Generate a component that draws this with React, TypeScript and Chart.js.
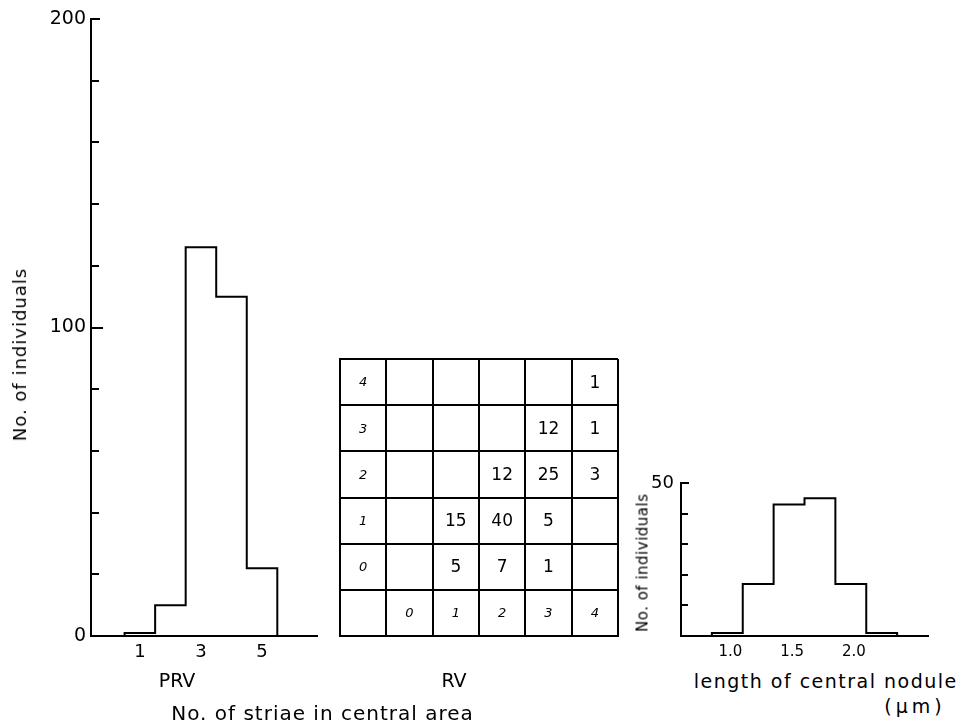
import React, { useEffect, useRef } from "react";
import { Chart, registerables } from "chart.js";

Chart.register(...registerables);

const FONT = "'DejaVu Sans', sans-serif";

// ---- PRV histogram (No. of striae in central area, PRV) ----
const prvStriae = [1, 2, 3, 4, 5];
const prvCounts = [1, 10, 126, 110, 22];
const prvXTickValues = [1, 3, 5];
const prvYTickValues = [0, 20, 40, 60, 80, 100, 120, 140, 160, 180, 200];
const prvYLabelled = [0, 100, 200];

// ---- RV table (rows: striae on one side, columns: striae on the other) ----
const rvHeaders = [0, 1, 2, 3, 4];
const rvCellCol = [4, 3, 4, 2, 3, 4, 1, 2, 3, 1, 2, 3];
const rvCellRow = [4, 3, 3, 2, 2, 2, 1, 1, 1, 0, 0, 0];
const rvCellCount = [1, 12, 1, 12, 25, 3, 15, 40, 5, 5, 7, 1];

// ---- Central nodule length histogram ----
const noduleBinEdges = [0.85, 1.1, 1.35, 1.6, 1.85, 2.1, 2.35];
const noduleCounts = [1, 17, 43, 45, 17, 1];
const noduleXTickValues = [1.0, 1.5, 2.0];
const noduleYTickValues = [0, 10, 20, 30, 40, 50];
const noduleYLabelled = [50];

function stepOutline(edges: number[], counts: number[]) {
  const pts = [{ x: edges[0], y: 0 }];
  counts.forEach((c, i) => pts.push({ x: edges[i + 1], y: c }));
  pts.push({ x: edges[edges.length - 1], y: 0 });
  return pts;
}

function makeInwardTicks(values: number[], lengths: number[]) {
  return {
    id: "inwardTicks",
    afterDraw(chart: any) {
      const { ctx, chartArea, scales } = chart;
      const y = scales.y;
      ctx.save();
      ctx.strokeStyle = "#000";
      ctx.lineWidth = 2;
      values.forEach((v, i) => {
        if (!lengths[i]) return;
        const py = Math.round(y.getPixelForValue(v));
        ctx.beginPath();
        ctx.moveTo(chartArea.left, py);
        ctx.lineTo(chartArea.left + lengths[i], py);
        ctx.stroke();
      });
      ctx.restore();
    },
  };
}

const cellText = {
  id: "cellText",
  afterDatasetsDraw(chart: any) {
    const ctx = chart.ctx;
    chart.data.datasets.forEach((ds: any, di: number) => {
      const meta = chart.getDatasetMeta(di);
      ctx.save();
      ctx.font = ds.textFont;
      ctx.fillStyle = "#000";
      ctx.textAlign = "center";
      ctx.textBaseline = "middle";
      meta.data.forEach((el: any, i: number) => {
        ctx.fillText(ds.texts[i], el.x, el.y + 1);
      });
      ctx.restore();
    });
  },
};

function histConfig(o: any) {
  return {
    type: "line",
    data: {
      datasets: [
        {
          data: o.points,
          stepped: "after",
          borderColor: "#000",
          borderWidth: 2,
          pointRadius: 0,
          fill: false,
        },
      ],
    },
    options: {
      responsive: false,
      animation: false,
      events: [],
      layout: { padding: o.padding },
      plugins: { legend: { display: false }, tooltip: { enabled: false } },
      scales: {
        x: {
          type: "linear",
          min: o.xMin,
          max: o.xMax,
          afterBuildTicks: (s: any) => {
            s.ticks = o.xTicks.map((v: number) => ({ value: v }));
          },
          afterFit: (s: any) => {
            s.height = o.xHeight;
          },
          ticks: {
            color: "#000",
            font: o.xTickFont,
            padding: o.xTickPad,
            maxRotation: 0,
            autoSkip: false,
            callback: (v: number) => o.xFmt(v),
          },
          grid: { display: false, drawTicks: false },
          border: { display: true, color: "#000", width: 2 },
        },
        y: {
          type: "linear",
          min: 0,
          max: o.yMax,
          afterBuildTicks: (s: any) => {
            s.ticks = o.yTicks.map((v: number) => ({ value: v }));
          },
          afterFit: (s: any) => {
            s.width = o.yWidth;
          },
          ticks: {
            color: "#000",
            font: o.yTickFont,
            padding: o.yTickPad,
            autoSkip: false,
            callback: (v: number) => (o.yLabelled.includes(v) ? String(v) : ""),
          },
          grid: { display: false, drawTicks: false },
          border: { display: true, color: "#000", width: 2 },
        },
      },
    },
    plugins: [makeInwardTicks(o.yTicks, o.tickLens)],
  };
}

function gridConfig() {
  const lines = [-1, ...rvHeaders].map((h) => h - 0.5);
  lines.push(rvHeaders[rvHeaders.length - 1] + 0.5);
  const axis = (isX: boolean) => ({
    type: "linear",
    min: lines[0],
    max: lines[lines.length - 1],
    afterBuildTicks: (s: any) => {
      s.ticks = lines.map((v) => ({ value: v }));
    },
    afterFit: (s: any) => {
      if (isX) s.height = 0;
      else s.width = 0;
    },
    ticks: { display: false },
    grid: { display: true, color: "#000", lineWidth: 2, drawTicks: false },
    border: { display: true, color: "#000", width: 2 },
  });
  return {
    type: "scatter",
    data: {
      datasets: [
        {
          data: rvCellCol.map((c, i) => ({ x: c, y: rvCellRow[i] })),
          pointRadius: 0,
          texts: rvCellCount.map(String),
          textFont: `17px ${FONT}`,
        },
        {
          data: rvHeaders.map((h) => ({ x: -1, y: h })),
          pointRadius: 0,
          texts: rvHeaders.map(String),
          textFont: `italic 13px ${FONT}`,
        },
        {
          data: rvHeaders.map((h) => ({ x: h, y: -1 })),
          pointRadius: 0,
          texts: rvHeaders.map(String),
          textFont: `italic 13px ${FONT}`,
        },
      ],
    },
    options: {
      responsive: false,
      animation: false,
      events: [],
      layout: { padding: { left: 10, top: 19, right: 12, bottom: 4 } },
      plugins: { legend: { display: false }, tooltip: { enabled: false } },
      scales: { x: axis(true), y: axis(false) },
    },
    plugins: [cellText],
  };
}

function ChartBox({ config, left, top, width, height }: any) {
  const ref = useRef<HTMLCanvasElement | null>(null);
  useEffect(() => {
    if (!ref.current) return;
    const chart = new Chart(ref.current, config());
    return () => chart.destroy();
  }, []);
  return (
    <canvas
      ref={ref}
      width={width}
      height={height}
      style={{ position: "absolute", left, top, width, height }}
    />
  );
}

function Label({ text, cx, cy, size, spacing = 0, rotate = false }: any) {
  return (
    <div
      style={{
        position: "absolute",
        left: cx,
        top: cy,
        transform: `translate(-50%, -50%)${rotate ? " rotate(-90deg)" : ""}`,
        fontFamily: FONT,
        fontSize: size,
        letterSpacing: spacing,
        paddingLeft: spacing,
        lineHeight: 1,
        whiteSpace: "nowrap",
        color: "#000",
      }}
    >
      {text}
    </div>
  );
}

export default function App() {
  const prvConfig = () =>
    histConfig({
      points: stepOutline(
        [prvStriae[0] - 0.5, ...prvStriae.map((s) => s + 0.5)],
        prvCounts
      ),
      xMin: -0.6,
      xMax: 6.8,
      xTicks: prvXTickValues,
      xFmt: (v: number) => String(v),
      xTickFont: { family: FONT, size: 18 },
      xTickPad: 6,
      xHeight: 30,
      yMax: 200,
      yTicks: prvYTickValues,
      yLabelled: prvYLabelled,
      yTickFont: { family: FONT, size: 19 },
      yTickPad: 5,
      yWidth: 91,
      padding: { left: 0, top: 19, right: 13, bottom: 14 },
      tickLens: prvYTickValues.map((v) =>
        v === 0 ? 0 : v === 200 ? 9 : v % 100 === 0 ? 12 : 8
      ),
    });

  const noduleConfig = () =>
    histConfig({
      points: stepOutline(noduleBinEdges, noduleCounts),
      xMin: 0.6,
      xMax: 2.6,
      xTicks: noduleXTickValues,
      xFmt: (v: number) => v.toFixed(1),
      xTickFont: { family: FONT, size: 15 },
      xTickPad: 7,
      xHeight: 20,
      yMax: 50,
      yTicks: noduleYTickValues,
      yLabelled: noduleYLabelled,
      yTickFont: { family: FONT, size: 18 },
      yTickPad: 7,
      yWidth: 41,
      padding: { left: 0, top: 23, right: 12, bottom: 4 },
      tickLens: noduleYTickValues.map((v) => (v === 0 ? 0 : v === 50 ? 8 : 7)),
    });

  return (
    <div
      style={{
        position: "absolute",
        left: 0,
        top: 0,
        width: 966,
        height: 728,
        background: "#fff",
        overflow: "hidden",
      }}
    >
      <ChartBox config={prvConfig} left={0} top={0} width={330} height={680} />
      <ChartBox config={gridConfig} left={330} top={340} width={300} height={300} />
      <ChartBox config={noduleConfig} left={640} top={460} width={300} height={200} />

      <Label text="No. of individuals" cx={20} cy={355} size={18} spacing={1} rotate />
      <Label text="PRV" cx={177} cy={680} size={19} />
      <Label text="RV" cx={454} cy={680} size={19} />
      <Label text="No. of striae in central area" cx={322} cy={713} size={20} spacing={1} />
      <Label text="No. of individuals" cx={643} cy={563} size={15} spacing={0.5} rotate />
      <Label text="length of central nodule" cx={825} cy={681} size={19} spacing={1.5} />
      <Label text="(µm)" cx={913} cy={706} size={19} spacing={4} />
    </div>
  );
}
